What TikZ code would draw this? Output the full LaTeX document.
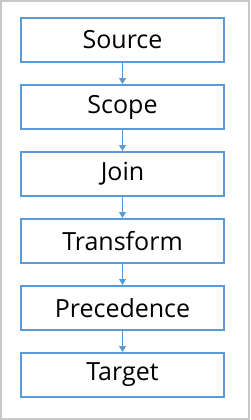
\documentclass[tikz,border=0pt]{standalone}
\usepackage{fontspec}
\setmainfont{Open Sans}
\usepackage{tikz}
\usetikzlibrary{positioning,arrows.meta}
\definecolor{stepblue}{RGB}{91,155,213}
\definecolor{framegray}{RGB}{200,200,200}
\tikzset{
  stage-node/.style={draw=stepblue, line width=2pt, minimum width=203pt,
    minimum height=44pt, inner sep=0pt, font=\fontsize{25}{29}\selectfont,
    text=black},
  stage-arrow/.style={-{Triangle[width=7pt,length=6pt]}, line width=1pt,
    draw=stepblue}
}
\begin{document}
\begin{tikzpicture}[node distance=21pt]
% Frame
\useasboundingbox (0,0) rectangle (250pt,-420pt);
\draw[framegray, line width=1.2pt] (1pt,-1pt) rectangle (249pt,-419pt);

% Stages
\node[stage-node] (source) at (122.5pt,-40pt) {Source};
\node[stage-node, below=of source] (scope) {Scope};
\node[stage-node, below=of scope] (join) {Join};
\node[stage-node, below=of join] (transform) {Transform};
\node[stage-node, below=of transform] (precedence) {Precedence};
\node[stage-node, below=of precedence] (target) {Target};

% Connectors
\draw[stage-arrow] (source) -- (scope);
\draw[stage-arrow] (scope) -- (join);
\draw[stage-arrow] (join) -- (transform);
\draw[stage-arrow] (transform) -- (precedence);
\draw[stage-arrow] (precedence) -- (target);
\end{tikzpicture}
\end{document}
